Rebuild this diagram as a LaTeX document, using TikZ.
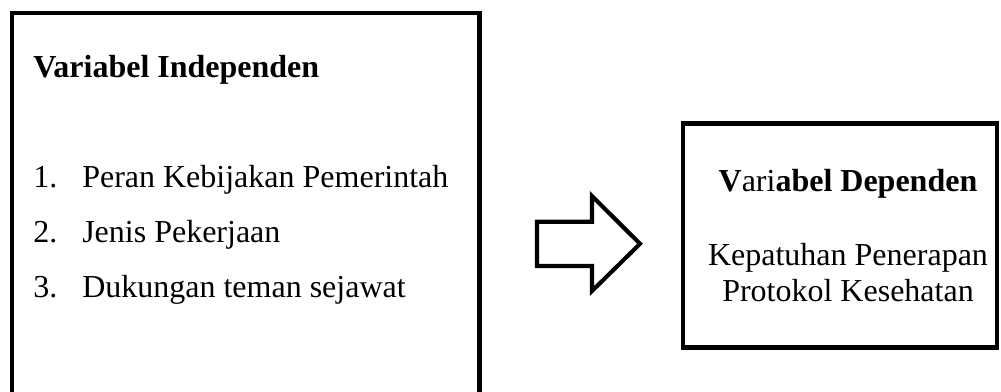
\documentclass[tikz,border=0pt]{standalone}
\usepackage{fontspec}
\setmainfont{Liberation Serif}
\begin{document}
\begin{tikzpicture}[x=0.75pt,y=-0.75pt,
  frame/.style={draw=black,line width=3.4pt,line join=miter},
  txt/.style={inner sep=0pt,font=\fontsize{24}{28}\selectfont},
  blockarrow/.style={draw=black,line width=3.1pt,line join=miter,fill=white}]
\useasboundingbox (0,0) rectangle (1001,392);
% left box
\begin{scope}
\clip (0,0) rectangle (1001,392);
\draw[frame] (12,13) rectangle (479.5,394);
\end{scope}
\node[txt,anchor=base west] (t1) at (33,78) {\bfseries Variabel Independen};
\node[txt,anchor=base west] (n1) at (33,188) {1.};
\node[txt,anchor=base west] (i1) at (82,188) {Peran Kebijakan Pemerintah};
\node[txt,anchor=base west] (n2) at (33,243) {2.};
\node[txt,anchor=base west] (i2) at (82,243) {Jenis Pekerjaan};
\node[txt,anchor=base west] (n3) at (33,298) {3.};
\node[txt,anchor=base west] (i3) at (82,298) {Dukungan teman sejawat};
% block arrow
\draw[blockarrow] (537,221.7) -- (592,221.7) -- (592,196) -- (640,243.8) -- (592,291) -- (592,266) -- (537,266) -- cycle;
% right box
\draw[frame] (683,123.5) rectangle (997,347.5);
\node[txt,anchor=base] (t2) at (848,192) {\textbf{V}ari\textbf{abel Dependen}};
\node[txt,anchor=base] (d1) at (848,266) {Kepatuhan Penerapan};
\node[txt,anchor=base] (d2) at (848,302) {Protokol Kesehatan};
\end{tikzpicture}
\end{document}
